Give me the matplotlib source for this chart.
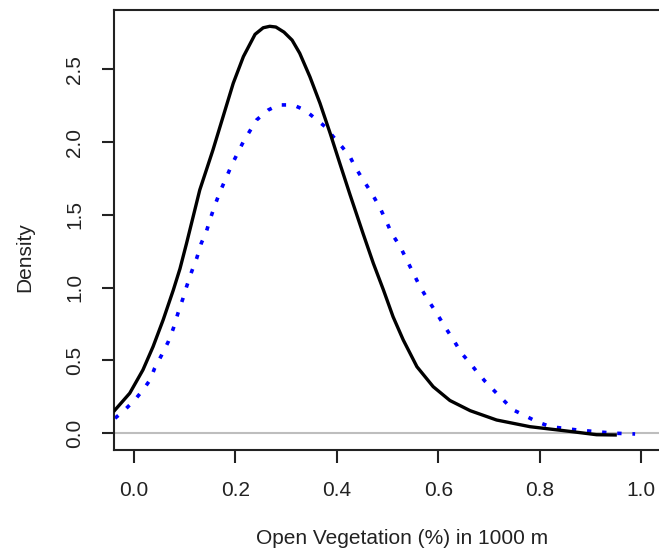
import matplotlib
matplotlib.use("Agg")
import matplotlib.pyplot as plt

# density curves (open vegetation within 1000 m)
black_x = [-0.040, -0.008, 0.018, 0.038, 0.058, 0.078, 0.091, 0.104, 0.117, 0.130,
           0.143, 0.156, 0.176, 0.196, 0.216, 0.239, 0.255, 0.268, 0.280, 0.296,
           0.312, 0.327, 0.347, 0.367, 0.387, 0.406, 0.426, 0.452, 0.472, 0.492,
           0.511, 0.531, 0.558, 0.590, 0.623, 0.663, 0.715, 0.781, 0.847, 0.880,
           0.912, 0.952]
black_y = [0.148, 0.275, 0.435, 0.595, 0.780, 0.985, 1.130, 1.305, 1.488, 1.671,
           1.808, 1.946, 2.175, 2.404, 2.587, 2.740, 2.785, 2.795, 2.790, 2.755,
           2.700, 2.610, 2.449, 2.266, 2.060, 1.854, 1.640, 1.370, 1.168, 0.984,
           0.800, 0.641, 0.457, 0.320, 0.225, 0.155, 0.091, 0.045, 0.018, 0.004,
           -0.010, -0.012]

blue_x = [-0.037, -0.018, 0.002, 0.018, 0.032, 0.041, 0.055, 0.068, 0.078, 0.087,
          0.097, 0.104, 0.114, 0.124, 0.133, 0.143, 0.150, 0.160, 0.170, 0.183,
          0.193, 0.216, 0.242, 0.265, 0.285, 0.314, 0.337, 0.357, 0.377, 0.393,
          0.410, 0.426, 0.436, 0.452, 0.469, 0.485, 0.498, 0.508, 0.525, 0.538,
          0.551, 0.564, 0.580, 0.597, 0.613, 0.630, 0.646, 0.663, 0.676, 0.693,
          0.712, 0.728, 0.748, 0.768, 0.794, 0.821, 0.847, 0.873, 0.920, 0.950,
          0.988]
blue_y = [0.103, 0.160, 0.229, 0.297, 0.366, 0.446, 0.538, 0.629, 0.721, 0.824,
          0.927, 1.007, 1.110, 1.202, 1.305, 1.385, 1.465, 1.568, 1.659, 1.762,
          1.843, 2.003, 2.152, 2.220, 2.255, 2.255, 2.220, 2.163, 2.106, 2.037,
          1.969, 1.900, 1.830, 1.740, 1.648, 1.550, 1.453, 1.374, 1.282, 1.190,
          1.099, 1.007, 0.915, 0.824, 0.732, 0.641, 0.549, 0.481, 0.423, 0.354,
          0.286, 0.229, 0.160, 0.126, 0.080, 0.045, 0.034, 0.023, 0.008, 0.000,
          -0.005]

x_ticks = [0.0, 0.2, 0.4, 0.6, 0.8, 1.0]
y_ticks = [0.0, 0.5, 1.0, 1.5, 2.0, 2.5]

plt.rcParams['font.family'] = ['Liberation Sans', 'DejaVu Sans']
txt = '#222222'

fig = plt.figure(figsize=(6.59, 5.53), dpi=100)
ax = fig.add_axes([113.5 / 659, 103 / 553, 548 / 659, 440 / 553])

ax.axhline(0, color='#bebebe', lw=1.5, zorder=1)
ax.plot(black_x, black_y, color='black', lw=2.4, solid_capstyle='butt', zorder=3)
ax.plot(blue_x, blue_y, color='#0000ff', lw=2.6, linestyle=(0, (1.2, 3)),
        dash_capstyle='butt', zorder=2)

ax.set_xlim(-0.04, 1.04)
ax.set_ylim(-0.115, 2.907)

ax.set_xticks(x_ticks)
ax.set_xticklabels([f'{v:.1f}' for v in x_ticks])
ax.set_yticks(y_ticks)
ax.set_yticklabels([f'{v:.1f}' for v in y_ticks], rotation=90, va='center')

ax.tick_params(axis='both', direction='out', length=9, width=1.5,
               color='#222222', labelcolor=txt, labelsize=15)
ax.tick_params(axis='x', pad=13)
ax.tick_params(axis='y', pad=12)

for side in ['left', 'top', 'bottom']:
    ax.spines[side].set_linewidth(1.5)
    ax.spines[side].set_color('#222222')
ax.spines['right'].set_visible(False)

fig.text(402 / 659, 1 - 538 / 553, 'Open Vegetation (%) in 1000 m', ha='center',
         va='center', fontsize=15, color=txt)
fig.text(25 / 659, 1 - 257 / 553, 'Density', ha='center', va='center',
         rotation=90, fontsize=15, color=txt)

plt.savefig('out.png', dpi=100)
